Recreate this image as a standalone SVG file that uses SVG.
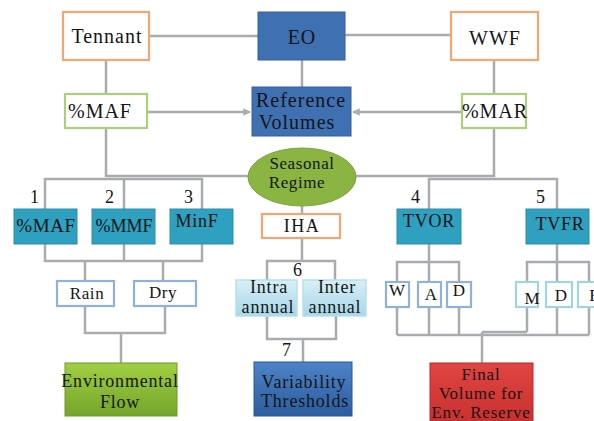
<svg xmlns="http://www.w3.org/2000/svg" width="594" height="421" viewBox="0 0 594 421">
<style>
text{font-family:"Liberation Serif","Times New Roman",serif;fill:#151515;text-anchor:middle}
.t20{font-size:20px;letter-spacing:1px}
.t19{font-size:19px;letter-spacing:0.6px}
.t18{font-size:18px;letter-spacing:0.8px}
.t17{font-size:17px;letter-spacing:0.6px}
.c{fill:none;stroke:#a9abae;stroke-width:2.5}
.or{fill:#fff;stroke:#f2a671;stroke-width:2.2}
.gr{fill:#fff;stroke:#a9d07a;stroke-width:2.2}
.bl{fill:#3e70b2;stroke:#34619d;stroke-width:1}
.te{fill:#2fa0bf;stroke:#2a8fab;stroke-width:1}
.sb{fill:#fff;stroke:#8fb2dc;stroke-width:2.2}
.sc{fill:#fff;stroke:#9fd4e0;stroke-width:2.2}
</style>
<defs>
<marker id="ah" viewBox="0 0 10 10" refX="9" refY="5" markerWidth="3" markerHeight="3" orient="auto"><path d="M0,0 L10,5 L0,10 z" fill="#a9abae"/></marker>
<linearGradient id="gGreen" x1="0" y1="0" x2="0" y2="1"><stop offset="0" stop-color="#a1cf42"/><stop offset="1" stop-color="#74a52c"/></linearGradient>
<linearGradient id="gLight" x1="0" y1="0" x2="0" y2="1"><stop offset="0" stop-color="#d8eff6"/><stop offset="1" stop-color="#a6d7e7"/></linearGradient>
<linearGradient id="gBlue" x1="0" y1="0" x2="0" y2="1"><stop offset="0" stop-color="#4d83c8"/><stop offset="1" stop-color="#2c5d9e"/></linearGradient>
<linearGradient id="gRed" x1="0" y1="0" x2="0" y2="1"><stop offset="0" stop-color="#e04542"/><stop offset="1" stop-color="#c8302e"/></linearGradient>
</defs>

<g id="connectors">
<path class="c" d="M149 36 H258 M345 35 H451 M302 60 V87 M106 61 V94 M494 61 V94"/>
<path class="c" d="M147 112 H250" marker-end="url(#ah)"/>
<path class="c" d="M462 112 H353" marker-end="url(#ah)"/>
<path class="c" d="M106 128 V176 H250 M354 176 H494 V128"/>
<path class="c" d="M45 209 V179 H202 V209 M124 179 V209"/>
<path class="c" d="M429 209 V179 H557 V209"/>
<path class="c" d="M302 205 V214"/>
<path class="c" d="M45 244 V261 H202 V244 M124 244 V261 M85 261 V281 M163 261 V281"/>
<path class="c" d="M85 306 V333 H165 V306 M121 333 V363"/>
<path class="c" d="M302 238 V261 M267 280 V261 H335 V280"/>
<path class="c" d="M267 316 V339 H336 V316 M303 339 V362"/>
<path class="c" d="M429 244 V262 M397 282 V262 H459 V282 M429 262 V282"/>
<path class="c" d="M557 244 V262 M527 282 V262 H589 V282 M557 262 V282"/>
<path class="c" d="M397 307 V335 M429 307 V335 M459 307 V335 M527 307 V332 M557 307 V335 M589 307 V335 M397 335 H589 M482 332 H527 M482 332 V363"/>
</g>

<g id="tennant"><rect class="or" x="63" y="12" width="86" height="48"/><text class="t20" x="107" y="43">Tennant</text></g>
<g id="eo"><rect class="bl" x="258" y="12" width="87" height="48"/><text class="t20" x="302" y="44">EO</text></g>
<g id="wwf"><rect class="or" x="451" y="12" width="87" height="48"/><text class="t20" x="495" y="45">WWF</text></g>
<g id="maf-top"><rect class="gr" x="65" y="94" width="82" height="34"/><text class="t20" x="100" y="118">%MAF</text></g>
<g id="ref-volumes"><rect class="bl" x="252" y="87" width="99" height="49"/><text class="t20" x="301" y="107">Reference</text><text class="t20" x="297" y="129">Volumes</text></g>
<g id="mar-top"><rect class="gr" x="462" y="94" width="64" height="34"/><text class="t20" x="495" y="118">%MAR</text></g>
<g id="seasonal-regime"><ellipse cx="302" cy="177" rx="54" ry="29" fill="#8ab543" stroke="#7aa63a" stroke-width="1"/><text class="t17" x="302" y="169">Seasonal</text><text class="t17" x="297" y="188">Regime</text></g>

<g id="n1"><text class="t18" x="35" y="203">1</text><rect class="te" x="14" y="209" width="63" height="35"/><text class="t19" x="46" y="232">%MAF</text></g>
<g id="n2"><text class="t18" x="110" y="203">2</text><rect class="te" x="92" y="209" width="63" height="35"/><text class="t18" x="124" y="232" style="letter-spacing:0">%MMF</text></g>
<g id="n3"><text class="t18" x="189" y="203">3</text><rect class="te" x="170" y="209" width="63" height="35"/><text class="t18" x="197" y="227">MinF</text></g>
<g id="iha"><rect class="or" x="262" y="214" width="78" height="24"/><text class="t18" x="302" y="232" style="letter-spacing:1.5px">IHA</text></g>
<g id="n4"><text class="t18" x="416" y="203">4</text><rect class="te" x="397" y="209" width="64" height="35"/><text class="t18" x="429" y="227">TVOR</text></g>
<g id="n5"><text class="t18" x="541" y="203">5</text><rect class="te" x="526" y="209" width="63" height="35"/><text class="t18" x="560" y="230">TVFR</text></g>

<g id="rain"><rect class="sb" x="57" y="281" width="57" height="25"/><text class="t17" x="87" y="299">Rain</text></g>
<g id="dry"><rect class="sb" x="134" y="281" width="62" height="25"/><text class="t17" x="163" y="298">Dry</text></g>
<g id="n6"><text class="t18" x="298" y="276">6</text></g>
<g id="intra"><rect x="236" y="280" width="61" height="36" fill="url(#gLight)" stroke="#b7dfeb" stroke-width="1.5"/><text class="t18" x="269" y="293">Intra</text><text class="t18" x="268" y="313">annual</text></g>
<g id="inter"><rect x="303" y="280" width="63" height="36" fill="url(#gLight)" stroke="#b7dfeb" stroke-width="1.5"/><text class="t18" x="337" y="293">Inter</text><text class="t18" x="335" y="313">annual</text></g>
<g id="w"><rect class="sb" x="386" y="282" width="23" height="25"/><text class="t17" x="397" y="296" style="letter-spacing:0">W</text></g>
<g id="a"><rect class="sb" x="418" y="282" width="23" height="25"/><text class="t17" x="431" y="300" style="letter-spacing:0">A</text></g>
<g id="d1"><rect class="sb" x="447" y="282" width="24" height="25"/><text class="t17" x="459" y="296" style="letter-spacing:0">D</text></g>
<g id="m"><rect class="sc" x="516" y="282" width="22" height="25"/><text class="t17" x="532" y="304" style="letter-spacing:0">M</text></g>
<g id="d2"><rect class="sc" x="546" y="282" width="26" height="25"/><text class="t17" x="561" y="301" style="letter-spacing:0">D</text></g>
<g id="r"><rect class="sc" x="578" y="282" width="24" height="25"/><text class="t17" x="595" y="301" style="letter-spacing:0">R</text></g>

<g id="env-flow"><rect x="65" y="363" width="112" height="53" fill="url(#gGreen)" stroke="#6f9a2c" stroke-width="1"/><text class="t18" x="120" y="387">Environmental</text><text class="t18" x="120" y="408">Flow</text></g>
<g id="n7"><text class="t18" x="287" y="356">7</text></g>
<g id="variability"><rect x="254" y="362" width="98" height="54" fill="url(#gBlue)" stroke="#2b5894" stroke-width="1"/><text class="t18" x="304" y="388">Variability</text><text class="t18" x="305" y="407">Thresholds</text></g>
<g id="final-volume"><rect x="430" y="363" width="103" height="60" fill="url(#gRed)" stroke="#b82a28" stroke-width="1"/><text class="t18" x="481" y="380" style="font-size:17px">Final</text><text class="t18" x="481" y="399" style="font-size:17px">Volume for</text><text class="t18" x="481" y="418" style="font-size:17px">Env. Reserve</text></g>
</svg>
